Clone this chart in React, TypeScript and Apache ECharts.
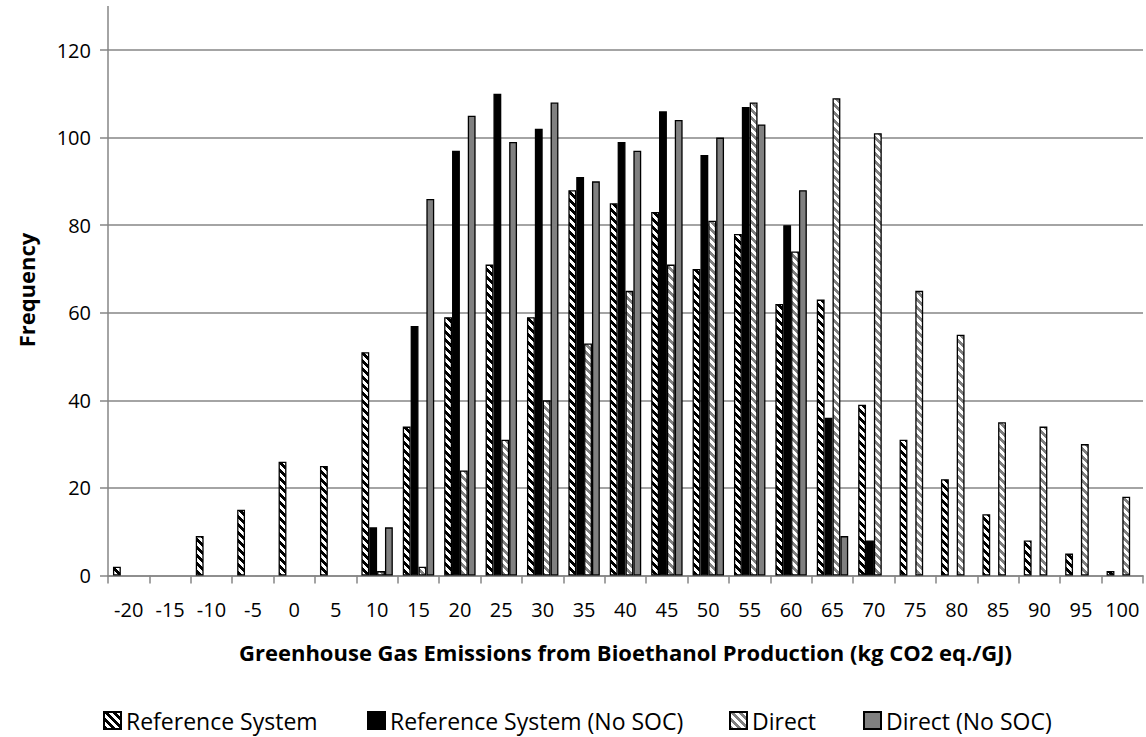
import React, { useEffect, useRef } from 'react';
import * as echarts from 'echarts';

// Emission classes (kg CO2 eq./GJ)
const categories = [
  '-20', '-15', '-10', '-5', '0', '5', '10', '15', '20', '25', '30', '35', '40',
  '45', '50', '55', '60', '65', '70', '75', '80', '85', '90', '95', '100',
];

// Frequencies per class
const referenceSystem = [2, 0, 9, 15, 26, 25, 51, 34, 59, 71, 59, 88, 85, 83, 70, 78, 62, 63, 39, 31, 22, 14, 8, 5, 1];
const referenceSystemNoSoc = [0, 0, 0, 0, 0, 0, 11, 57, 97, 110, 102, 91, 99, 106, 96, 107, 80, 36, 8, 0, 0, 0, 0, 0, 0];
const direct = [0, 0, 0, 0, 0, 0, 1, 2, 24, 31, 40, 53, 65, 71, 81, 108, 74, 109, 101, 65, 55, 35, 34, 30, 18];
const directNoSoc = [0, 0, 0, 0, 0, 0, 11, 86, 105, 99, 108, 90, 97, 104, 100, 103, 88, 9, 0, 0, 0, 0, 0, 0, 0];

const seriesNames = ['Reference System', 'Reference System (No SOC)', 'Direct', 'Direct (No SOC)'];
const legendLefts = [103, 367, 729, 863];

const FONT = '"Open Sans", "Noto Sans", sans-serif';
const AXIS_GRAY = '#868686';

// Wide downward-diagonal hatch tile
function hatchTile(stripe: string): HTMLCanvasElement {
  const size = 8;
  const c = document.createElement('canvas');
  c.width = size;
  c.height = size;
  const ctx = c.getContext('2d')!;
  ctx.fillStyle = '#ffffff';
  ctx.fillRect(0, 0, size, size);
  ctx.fillStyle = stripe;
  for (let y = 0; y < size; y++) {
    for (let x = 0; x < size; x++) {
      if ((((x - y) % size) + size) % size < 4) ctx.fillRect(x, y, 1, 1);
    }
  }
  return c;
}

const asBars = (arr: number[]) => arr.map((v) => (v === 0 ? '-' : v));

export default function App() {
  const ref = useRef<HTMLDivElement>(null);

  useEffect(() => {
    if (!ref.current) return;
    const chart = echarts.init(ref.current, null, { renderer: 'svg' });

    const blackHatch = { image: hatchTile('#000000'), repeat: 'repeat', imageWidth: 8, imageHeight: 8 };
    const grayHatch = { image: hatchTile('#808080'), repeat: 'repeat', imageWidth: 8, imageHeight: 8 };

    const fills: any[] = [blackHatch, '#000000', grayHatch, '#808080'];
    const values = [referenceSystem, referenceSystemNoSoc, direct, directNoSoc];

    const option: any = {
      animation: false,
      backgroundColor: '#ffffff',
      grid: {
        left: 108,
        right: 3,
        top: 50,
        bottom: 161.5,
        containLabel: false,
        outerBoundsMode: 'none',
      },
      xAxis: {
        type: 'category',
        data: categories,
        boundaryGap: true,
        axisLine: { show: true, lineStyle: { color: AXIS_GRAY, width: 1.5 } },
        axisTick: { show: true, inside: false, length: 8, alignWithLabel: false, lineStyle: { color: AXIS_GRAY, width: 1.5 } },
        axisLabel: { color: '#000', fontFamily: FONT, fontSize: 20, margin: 24, interval: 0 },
        splitLine: { show: false },
      },
      yAxis: {
        type: 'value',
        min: 0,
        max: 120,
        interval: 20,
        axisLine: { show: true, lineStyle: { color: AXIS_GRAY, width: 1.5 } },
        axisTick: { show: true, inside: false, length: 8, lineStyle: { color: AXIS_GRAY, width: 1.5 } },
        axisLabel: { color: '#000', fontFamily: FONT, fontSize: 20, margin: 17 },
        splitLine: { show: true, lineStyle: { color: AXIS_GRAY, width: 1.5 } },
      },
      legend: seriesNames.map((name, i) => ({
        data: [name],
        left: legendLefts[i],
        top: 709,
        padding: 0,
        itemWidth: 17,
        itemHeight: 17,
        icon: 'rect',
        selectedMode: false,
        textStyle: { fontFamily: FONT, fontSize: 23, color: '#000' },
      })),
      graphic: [
        // axis line continues up to 130
        {
          type: 'line',
          shape: { x1: 108, y1: 6, x2: 108, y2: 50 },
          style: { stroke: AXIS_GRAY, lineWidth: 1.5 },
          silent: true,
        },
        {
          type: 'text',
          x: 625.5,
          y: 652,
          silent: true,
          style: {
            text: 'Greenhouse Gas Emissions from Bioethanol Production (kg CO2 eq./GJ)',
            font: `bold 22px ${FONT}`,
            fill: '#000',
            align: 'center',
            verticalAlign: 'middle',
            textAlign: 'center',
            textVerticalAlign: 'middle',
          },
        },
        {
          type: 'text',
          x: 26,
          y: 290,
          rotation: Math.PI / 2,
          silent: true,
          style: {
            text: 'Frequency',
            font: `bold 22px ${FONT}`,
            fill: '#000',
            align: 'center',
            verticalAlign: 'middle',
            textAlign: 'center',
            textVerticalAlign: 'middle',
          },
        },
      ],
      series: seriesNames.map((name, i) => ({
        name,
        type: 'bar',
        data: asBars(values[i]),
        barGap: '0%',
        barCategoryGap: '24%',
        silent: true,
        itemStyle: { color: fills[i], borderColor: '#000', borderWidth: 1.3 },
        emphasis: { disabled: true },
      })),
    };

    chart.setOption(option);
    return () => chart.dispose();
  }, []);

  return (
    <div
      ref={ref}
      style={{ position: 'fixed', left: 0, top: 0, width: 1146, height: 737, background: '#fff' }}
    />
  );
}
